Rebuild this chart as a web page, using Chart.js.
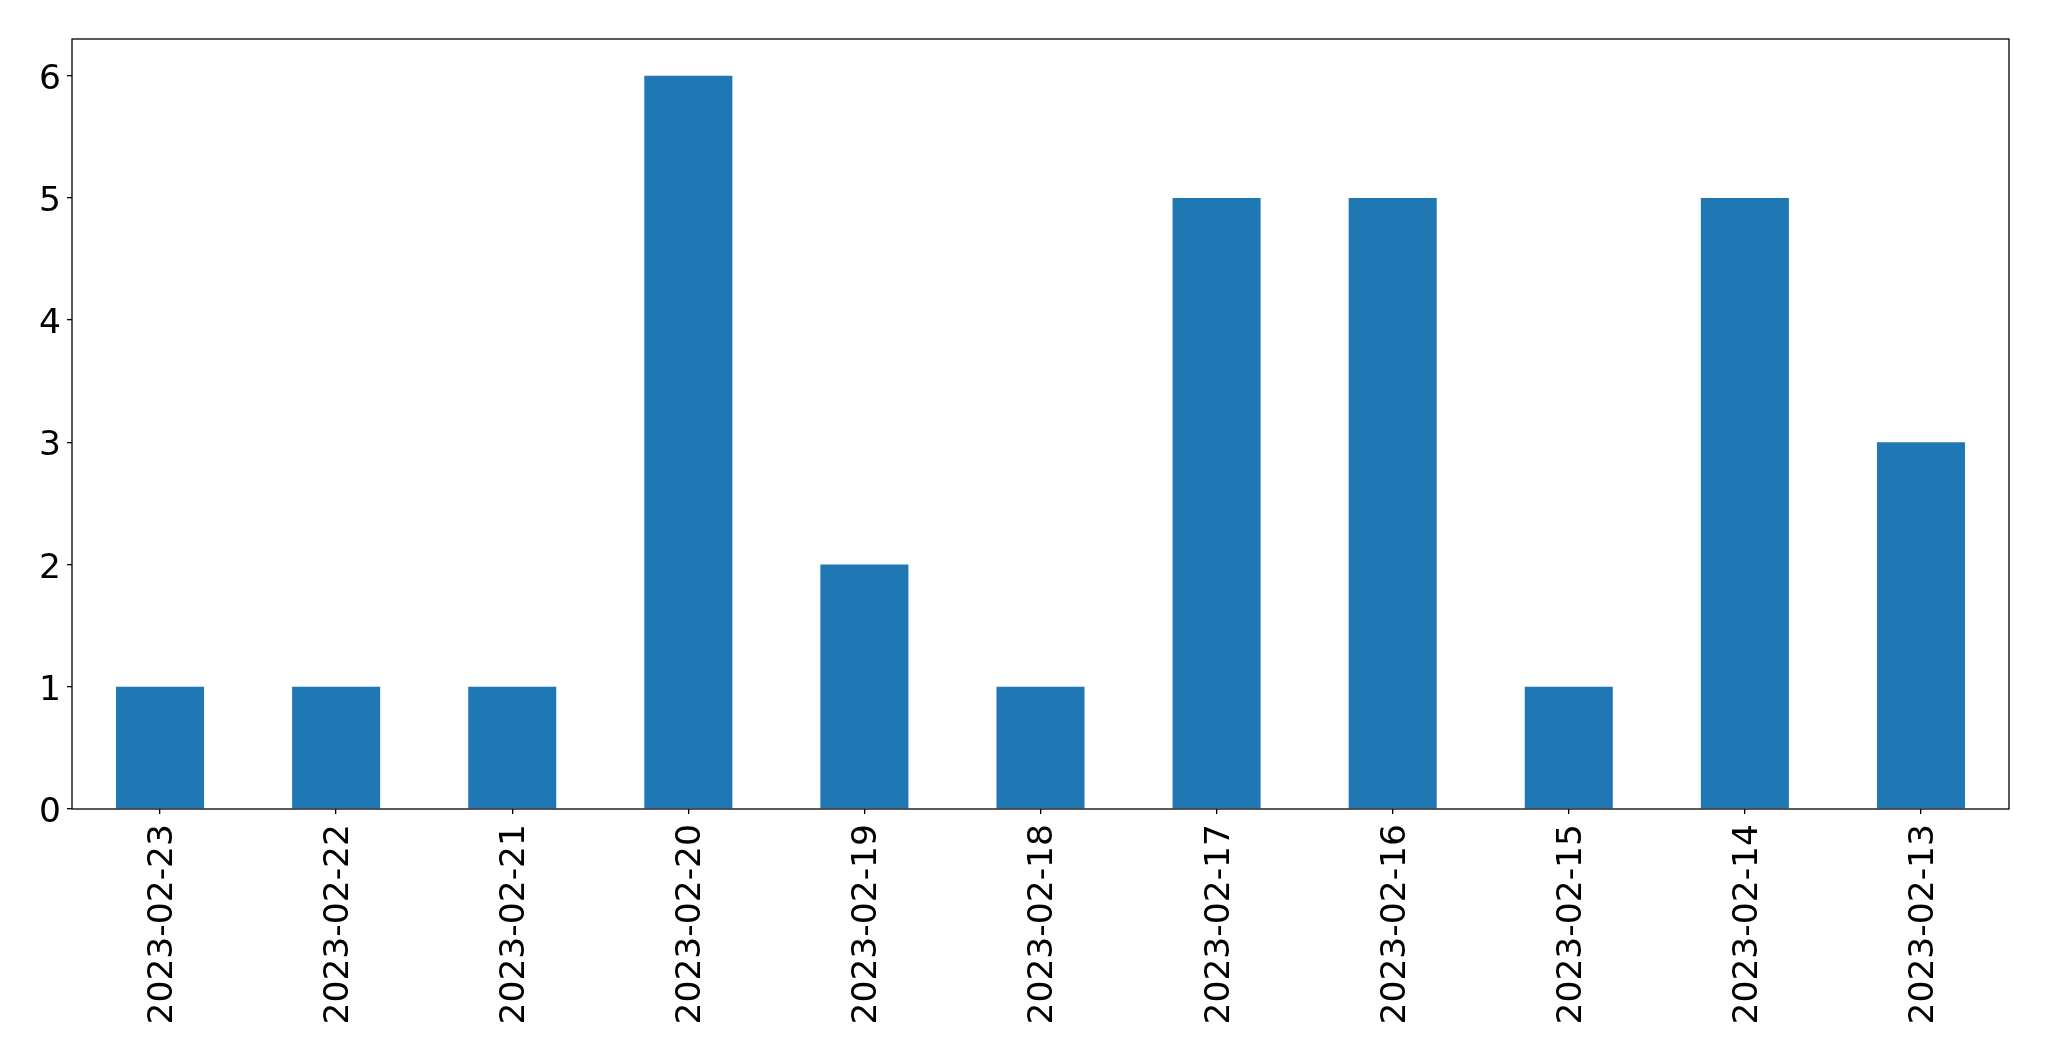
<!DOCTYPE html>
<html>
<head>
<meta charset="utf-8">
<script src="https://cdn.jsdelivr.net/npm/chart.js@4/dist/chart.umd.min.js"></script>
<style>
  html, body { margin: 0; padding: 0; background: #fff; overflow: hidden; }
  canvas { display: block; }
</style>
</head>
<body>
<canvas id="chart" width="2049" height="1061"></canvas>
<script>
// data
const dates = ["2023-02-23", "2023-02-22", "2023-02-21", "2023-02-20", "2023-02-19", "2023-02-18",
               "2023-02-17", "2023-02-16", "2023-02-15", "2023-02-14", "2023-02-13"];
const counts = [1, 1, 1, 6, 2, 1, 5, 5, 1, 5, 3];
const yTicks = [0, 1, 2, 3, 4, 5, 6];

const fontFamily = "'DejaVu Sans', sans-serif";
const fontSize = 34.5;

// draws the black frame round the plot area
const frame = {
  id: "frame",
  afterDraw(chart) {
    const a = chart.chartArea;
    const ctx = chart.ctx;
    ctx.save();
    ctx.strokeStyle = "#000";
    ctx.lineWidth = 1.3;
    ctx.strokeRect(a.left, a.top, a.right - a.left, a.bottom - a.top);
    ctx.restore();
  }
};

new Chart(document.getElementById("chart").getContext("2d"), {
  type: "bar",
  data: {
    labels: dates,
    datasets: [{
      data: counts,
      backgroundColor: "#1f77b4",
      borderWidth: 0,
      barPercentage: 0.5,
      categoryPercentage: 1.0
    }]
  },
  options: {
    responsive: false,
    animation: false,
    devicePixelRatio: 1,
    layout: { padding: { top: 39, right: 40, left: 0, bottom: 0 } },
    plugins: { legend: { display: false }, tooltip: { enabled: false } },
    scales: {
      x: {
        offset: true,
        grid: { display: true, offset: false, drawOnChartArea: false, drawTicks: true, tickLength: 5, color: "#000", lineWidth: 1.3 },
        border: { display: false },
        ticks: {
          minRotation: 90, maxRotation: 90, autoSkip: false,
          padding: 10,
          labelOffset: 3,
          color: "#000",
          font: { family: fontFamily, size: fontSize }
        },
        afterFit(scale) { scale.height = 252; }
      },
      y: {
        min: 0, max: 6.3,
        grid: { display: true, drawOnChartArea: false, drawTicks: true, tickLength: 5, color: "#000", lineWidth: 1.3 },
        border: { display: false },
        afterBuildTicks(scale) { scale.ticks = yTicks.map(v => ({ value: v })); },
        ticks: {
          padding: 6,
          labelOffset: 4,
          color: "#000",
          font: { family: fontFamily, size: fontSize }
        },
        afterFit(scale) { scale.width = 72; }
      }
    }
  },
  plugins: [frame]
});
</script>
</body>
</html>
